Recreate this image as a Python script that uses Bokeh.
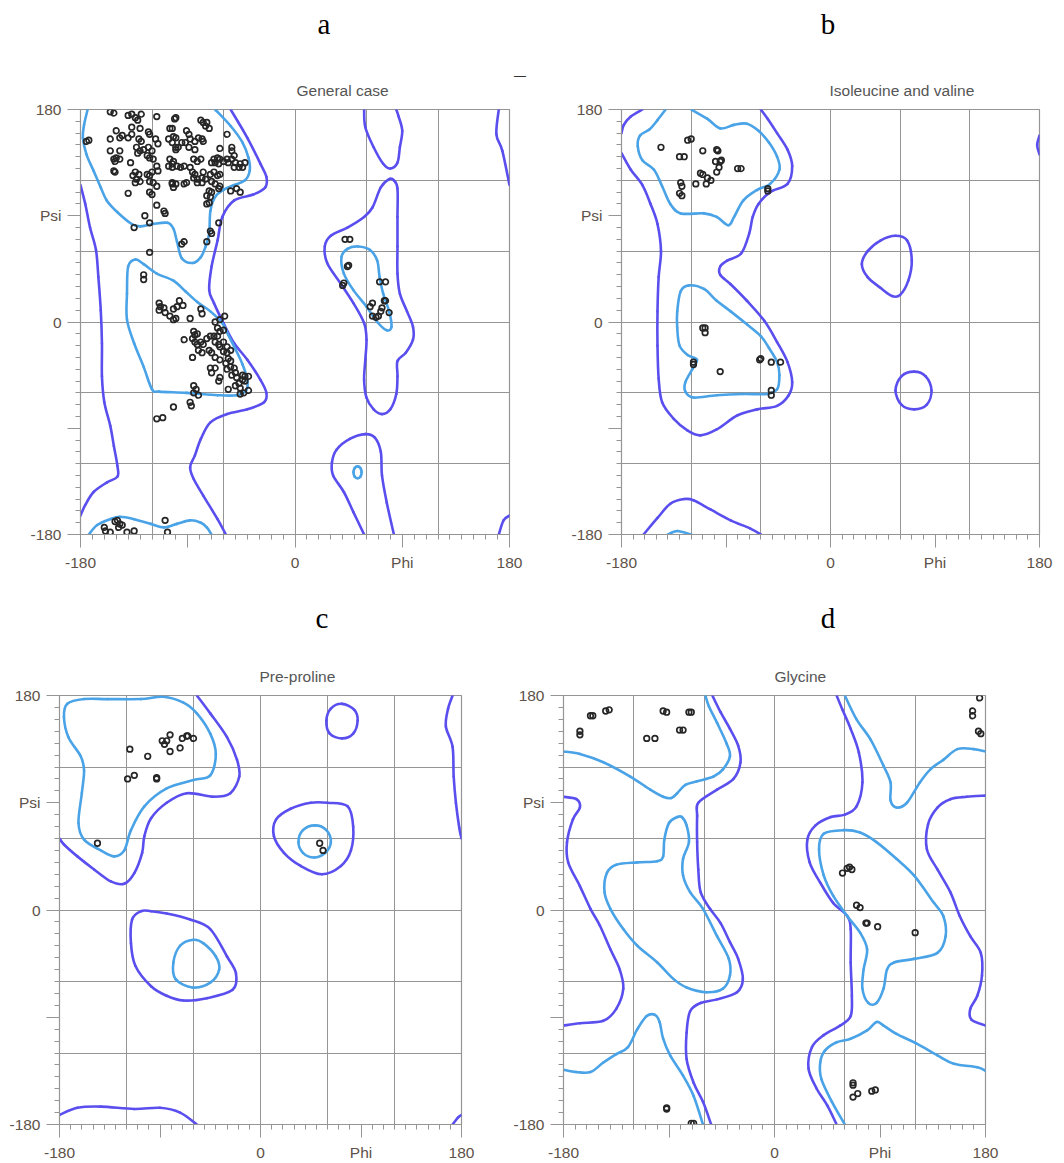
from bokeh.plotting import figure
from bokeh.models import Range1d, FixedTicker, Title, Div
from bokeh.layouts import row, column
from bokeh.embed import file_html
from bokeh.resources import INLINE

DARK = "#5a4fee"
LIGHT = "#49a3e6"
GRID = "#959595"
TXT = "#5e5249"
TITLE_TXT = "#555555"
PT = "#262626"

MAJOR = [-180, -90, 0, 90, 180]
MINOR = [v for v in range(-180, 181, 10) if v not in MAJOR]
GRID_TICKS = [-120, -60, 0, 60, 120]

# ---------------- panel a : General case ----------------
A_LIGHT_BETA = [(-67,180),(-54,166),(-44,152),(-39,139),(-38,128),(-42,120),(-51,116),(-60,112),(-67,106),(-71,94),(-72,75),(-75,64),(-79,55),(-86,50),(-95,54),(-99,68),(-102,79),(-107,84),(-119,83),(-130,81),(-137,83),(-149,93),(-158,103),(-163,114),(-169,128),(-175,142),(-178,156),(-177,167),(-174,180)]
A_DARK_MAIN = [(-54,180),(-40,156),(-29,134),(-24,123),(-25,114),(-35,108),(-51,103),(-61,89),(-65,69),(-70,47),(-72,27),(-68,16),(-60,-1),(-51,-18),(-40,-32),(-29,-49),(-24,-60),(-26,-68),(-40,-74),(-57,-78),(-71,-85),(-79,-99),(-84,-113),(-88,-123),(-85,-133),(-77,-147),(-65,-167),(-58,-180)]
A_DARK_LEFT = [(-180,116),(-176,100),(-172,80),(-167,61),(-165,38),(-163,10),(-162,-18),(-162,-46),(-160,-68),(-155,-88),(-152,-105),(-149,-122),(-149,-131),(-158,-136),(-169,-144),(-176,-155),(-180,-164)]
A_DARK_RT = [(171,180),(169,159),(174,145),(180,116)]
A_DARK_RB = [(171,-180),(175,-168),(180,-164)]
A_DARK_UTOP = [(58,180),(59,165),(66,148),(74,134),(80,130),(86,135),(88,148),(90,162),(87,174),(85,180)]
A_DARK_UBOT = [(58,-180),(49,-161),(41,-144),(32,-130),(31,-119),(35,-108),(46,-99),(59,-95),(67,-98),(72,-110),(73,-130),(77,-153),(83,-180)]
A_DARK_L = [(79,121),(72,114),(65,97),(58,89),(44,80),(30,73),(25,64),(27,50),(38,33),(49,16),(58,-1),(60,-15),(59,-32),(58,-49),(60,-64),(66,-74),(73,-78),(80,-74),(85,-61),(86,-46),(86,-33),(93,-26),(99,-15),(99,-4),(94,9),(88,24),(86,41),(86,64),(86,89),(86,113),(83,120)]
A_LIGHT_L = [(53,64),(44,62),(39,55),(41,41),(49,27),(60,13),(69,0),(77,-7),(81,-4),(79,9),(74,24),(71,38),(69,52),(63,61)]
A_LIGHT_ALPHA = [(-134,53),(-140,47),(-141,24),(-141,2),(-135,-18),(-127,-38),(-120,-57),(-114,-59),(-91,-60),(-65,-62),(-49,-62),(-41,-58),(-40,-49),(-44,-36),(-50,-23),(-56,-11),(-61,-1),(-71,9),(-82,17),(-92,26),(-102,35),(-116,41),(-127,49)]
A_LIGHT_BOT = [(-173,-180),(-166,-172),(-155,-167),(-147,-165),(-135,-167),(-121,-171),(-110,-174),(-99,-171),(-88,-168),(-79,-170),(-74,-174),(-70,-180)]
A_LIGHT_OVAL = [(52.5,-122.3),(55,-123.8),(55.9,-127.3),(55,-130.8),(52.5,-132.3),(50,-130.8),(49.1,-127.3),(50,-123.8)]

A_POINTS = [
    (-175,153),(-173,154),(-155,178),(-152,177),(-140,175),(-134,173),(-132,171),(-129,176),(-116,174),(-101,172),
    (-137,165),(-130,164),(-150,162),(-145,158),(-147,156),(-155,155),(-140,156),(-137,159),(-123,161),(-122,159),
    (-131,155),(-129,153),(-117,155),(-115,151),(-106,155),(-103,152),(-105,164),(-100,146),(-155,145),(-147,145),
    (-152,138),(-150,139),(-147,138),(-151,136),(-138,135),(-133,148),(-130,145),(-127,146),(-132,143),(-123,148),
    (-120,145),(-124,141),(-122,139),(-119,138),(-116,132),(-115,128),(-106,132),(-103,131),(-151,127),(-152,128),
    (-134,127),(-131,125),(-136,124),(-124,125),(-122,124),(-120,127),(-133,121),(-130,119),(-134,118),(-122,119),
    (-119,118),(-116,115),(-140,109),(-122,110),(-120,108),(-103,117),(-102,114),(-116,99),(-110,94),(-109,92),
    (-126,90),(-122,84),(-135,80),(-137,176),
    (-100,173),(-103,164),(-102,157),(-100,156),(-79,171),(-77,169),(-74,169),(-75,166),(-72,164),(-91,162),
    (-89,159),(-81,156),(-78,155),(-77,153),(-57,159),(-95,152),(-92,152),(-88,155),(-84,153),(-100,148),
    (-98,148),(-89,148),(-84,146),(-63,147),(-53,148),(-53,145),(-51,141),(-53,138),(-68,138),(-65,139),
    (-63,138),(-70,135),(-67,135),(-64,134),(-60,136),(-57,138),(-56,135),(-50,135),(-46,134),(-42,135),
    (-44,131),(-47,131),(-51,131),(-105,138),(-102,136),(-103,134),(-99,132),(-96,131),(-93,132),(-85,138),
    (-82,136),(-79,138),(-88,131),(-86,127),(-84,125),(-85,122),(-82,121),(-77,127),(-78,122),(-75,121),
    (-71,125),(-68,127),(-65,124),(-63,125),(-103,118),(-100,117),(-93,117),(-91,118),(-82,118),(-78,118),
    (-70,119),(-67,117),(-63,115),(-64,113),(-72,111),(-70,110),(-74,107),(-71,106),(-72,101),(-74,100),
    (-54,111),(-49,113),(-46,110),(-64,84),(-71,77),(-70,75),(-93,68),(-95,66),(-74,68),(-122,59),
    (-127,40),(-127,36),(-114,16),(-113,13),(-110,12),(-114,10),(-109,8),(-102,11),(-99,13),(-97,18),
    (-94,14),(-105,5),(-102,2),(-100,3),(-88,3),(-79,11),(-78,7),(-67,0),(-63,2),(-59,5),
    (-65,-5),(-93,-15),(-85,-8),(-84,-11),(-82,-10),(-86,-14),(-84,-17),(-82,-19),(-79,-17),(-77,-19),
    (-81,-24),(-86,-30),(-78,-26),(-74,-14),(-71,-12),(-68,-12),(-67,-17),(-64,-19),(-63,-21),(-60,-17),
    (-57,-21),(-54,-24),(-72,-24),(-70,-26),(-67,-30),(-63,-32),(-60,-25),(-57,-26),(-71,-39),(-67,-39),
    (-70,-43),(-63,-47),(-64,-50),(-56,-57),(-57,-40),(-54,-38),(-51,-39),(-50,-43),(-53,-45),(-49,-47),
    (-47,-52),(-50,-54),(-46,-56),(-44,-45),(-42,-46),(-39,-46),(-42,-50),(-44,-49),(-39,-58),(-43,-60),
    (-46,-61),(-85,-54),(-83,-57),(-85,-60),(-81,-62),(-102,-72),(-88,-68),(-87,-71),(-63,-8),(-60,-7),
    (-65,-12),(-56,-31),(-54,-33),(-58,-35),(-116,-82),(-111,-81),
    (-160,-174),(-159,-177),(-155,-178),(-151,-169),(-149,-168),(-147,-171),(-145,-172),(-148,-174),(-141,-178),(-135,-177),
    (-109,-168),(-107,-178),
    (42,70),(46,70),(44,47),(45,48),(40,31),(41,33),(71,34),(76,34),(63,13),(65,16),
    (73,12),(75,18),(76,18),(79,8),(65,5),(68,4),(70,5),(72,9),
]

# ---------------- panel b : Isoleucine and valine ----------------
B_DARK_CORNER = [(-162,180),(-172,174),(-178,167),(-180,160)]
B_DARK_MAIN = [(-180,143),(-172,129),(-162,116),(-155,100),(-149,83),(-146,60),(-148,38),(-149,9),(-149,-20),(-148,-48),(-145,-68),(-135,-82),(-123,-92),(-112,-96),(-98,-91),(-80,-79),(-63,-74),(-46,-71),(-36,-62),(-33,-51),(-37,-34),(-46,-17),(-57,1),(-72,18),(-86,32),(-95,40),(-95,47),(-89,52),(-77,58),(-70,75),(-67,89),(-62,100),(-52,110),(-37,117),(-33,132),(-37,146),(-46,160),(-54,172),(-60,180)]
B_LIGHT_TOP = [(-142,180),(-149,171),(-156,163),(-164,158),(-166,149),(-162,137),(-152,129),(-145,115),(-138,100),(-129,92),(-109,92),(-98,89),(-88,82),(-83,89),(-75,103),(-63,112),(-52,117),(-44,129),(-46,140),(-53,152),(-62,162),(-72,168),(-83,167),(-95,164),(-106,172),(-120,180)]
B_LIGHT_BOT = [(-140,-180),(-132,-177),(-120,-180)]
B_LIGHT_ALPHA = [(-122,31),(-129,26),(-132,9),(-132,-5),(-130,-20),(-123,-28),(-115,-32),(-119,-40),(-125,-51),(-125,-59),(-118,-64),(-98,-62),(-75,-61),(-55,-61),(-46,-57),(-44,-45),(-46,-34),(-53,-22),(-60,-12),(-72,-2),(-86,9),(-98,18),(-109,28)]
B_DARK_BOT = [(-161,-180),(-149,-166),(-138,-154),(-126,-150),(-118,-151),(-103,-159),(-86,-168),(-69,-175),(-60,-180)]
B_DARK_C1 = [(56,73),(66,69),(70,52),(67,35),(60,23),(53,22),(43,29),(32,38),(27,49),(32,60),(43,69)]
B_DARK_C2 = [(72,-42),(82,-46),(87,-58),(83,-70),(72,-74),(61,-70),(56,-58),(61,-46)]
B_DARK_EDGE = [(180,158),(178,150),(180,142)]

B_POINTS = [
    (-146,148),(-123,154),(-120,155),(-130,140),(-126,140),(-110,145),(-98,146),(-97,145),
    (-99,136),(-95,136),(-94,137),(-96,131),(-98,127),(-112,126),(-110,125),(-106,122),(-103,120),
    (-107,117),(-80,130),(-77,130),(-129,118),(-128,115),(-130,109),(-128,107),(-116,117),(-54,113),(-54,111),
    (-110,-5),(-108,-5),(-108,-9),(-118,-34),(-118,-36),(-95,-42),(-61,-32),(-60,-31),(-51,-34),(-43,-34),
    (-51,-58),(-51,-62),
]

# ---------------- panel c : Pre-proline ----------------
C_LIGHT_BETA = [(-158,177),(-173,173),(-176,162),(-172,145),(-161,129),(-158,117),(-160,98),(-163,73),(-158,59),(-143,50),(-131,45),(-122,50),(-116,67),(-104,87),(-84,102),(-60,109),(-45,113),(-40,131),(-45,148),(-57,165),(-69,174),(-87,179),(-107,177),(-137,177)]
C_DARK_BETA = [(-57,180),(-45,165),(-30,145),(-21,126),(-19,112),(-27,98),(-42,95),(-66,98),(-84,90),(-98,77),(-104,62),(-106,48),(-113,31),(-122,22),(-134,24),(-149,34),(-164,45),(-176,55),(-180,60)]
C_DARK_EDGE = [(172,180),(168,169),(166,154),(172,137),(173,112),(175,90),(178,69),(180,60)]
C_DARK_CIRC = [(73,173),(84,168),(87,159),(83,148),(73,144),(62,148),(59,159),(63,169)]
C_DARK_LOOP = [(60,90),(78,87),(83,70),(81,50),(72,37),(55,30),(36,37),(21,48),(12,62),(14,76),(27,85),(45,90)]
C_LIGHT_CIRC = [(49,71),(59,67),(63,57),(58,48),(48,44),(38,48),(34,57),(38,67)]
C_DARK_ALPHA = [(-107,-1),(-115,-8),(-116,-28),(-112,-47),(-98,-64),(-84,-72),(-69,-76),(-48,-74),(-25,-67),(-22,-53),(-30,-39),(-45,-16),(-63,-8),(-84,-3),(-98,-1)]
C_LIGHT_ALPHA = [(-60,-25),(-72,-30),(-78,-44),(-76,-58),(-61,-65),(-45,-61),(-37,-50),(-40,-39),(-51,-28)]
C_DARK_BOT = [(-180,-172),(-164,-166),(-143,-165),(-113,-167),(-90,-166),(-72,-170),(-57,-180)]
C_DARK_BR = [(172,-180),(177,-174),(180,-172)]

C_POINTS = [
    (-117,135),(-119,110),(-113,113),(-101,129),(-93,111),(-93,110),(-88,142),(-86,139),(-84,142),
    (-81,147),(-81,133),(-72,136),(-70,144),(-66,146),(-65,146),(-60,144),(-146,56),(53,56),(56,50),
]

# ---------------- panel d : Glycine ----------------
D_LIGHT_TL = [(-180,133),(-166,131),(-146,124),(-123,112),(-106,101),(-95,95),(-88,94),(-83,98),(-76,105),(-66,108),(-52,112),(-44,118),(-38,129),(-41,140),(-49,157),(-56,171),(-59,180)]
D_DARK_MID = [(-53,180),(-46,166),(-38,152),(-31,138),(-29,124),(-35,110),(-49,101),(-65,90),(-66,79),(-66,57),(-65,34),(-63,15),(-55,1),(-46,-11),(-38,-27),(-31,-41),(-27,-58),(-32,-69),(-49,-75),(-63,-78),(-72,-85),(-75,-103),(-75,-125),(-69,-145),(-61,-161),(-54,-180)]
D_LIGHT_CL = [(-83,78),(-90,73),(-94,59),(-95,45),(-100,41),(-117,40),(-135,38),(-143,31),(-145,15),(-140,1),(-129,-16),(-117,-30),(-100,-44),(-86,-58),(-75,-65),(-58,-69),(-44,-66),(-38,-55),(-39,-41),(-49,-22),(-61,1),(-72,15),(-78,29),(-78,43),(-73,57),(-75,71),(-79,78)]
D_DARK_L = [(-180,95),(-169,93),(-166,86),(-172,76),(-177,57),(-176,40),(-166,20),(-157,1),(-149,-13),(-140,-33),(-132,-50),(-129,-66),(-135,-83),(-146,-93),(-166,-95),(-180,-97)]
D_LIGHT_BL = [(-180,-134),(-169,-136),(-157,-136),(-146,-128),(-135,-121),(-125,-115),(-117,-100),(-109,-89),(-102,-88),(-98,-94),(-95,-108),(-89,-122),(-78,-139),(-69,-156),(-61,-180)]
D_DARK_R1 = [(53,180),(58,168),(65,152),(72,132),(75,107),(70,87),(60,80),(48,78),(35,71),(28,59),(30,40),(39,23),(50,6),(62,-5),(65,-16),(65,-44),(66,-72),(65,-89),(56,-97),(42,-105),(32,-115),(29,-133),(36,-150),(45,-164),(53,-180)]
D_LIGHT_RT = [(60,180),(70,160),(82,143),(93,121),(99,107),(99,92),(104,86),(113,90),(124,107),(133,118),(144,126),(156,135),(170,135),(180,133)]
D_LIGHT_RC = [(59,67),(42,64),(38,51),(42,29),(50,12),(62,-5),(73,-19),(79,-33),(76,-50),(75,-66),(80,-78),(87,-78),(93,-66),(96,-50),(102,-44),(119,-41),(139,-36),(146,-22),(144,-5),(136,6),(119,29),(104,43),(87,57),(73,65)]
D_DARK_R2 = [(180,96),(164,95),(150,93),(139,86),(131,72),(130,51),(139,34),(150,15),(158,-5),(167,-22),(176,-36),(177,-55),(173,-72),(167,-83),(168,-92),(180,-97)]
D_LIGHT_BR = [(60,-180),(49,-161),(40,-142),(39,-128),(43,-118),(53,-111),(65,-108),(79,-101),(87,-94),(93,-97),(104,-104),(121,-112),(139,-122),(153,-129),(173,-132),(180,-135)]

D_POINTS = [
    (-166,150),(-166,147),(-157,163),(-155,163),(-144,167),(-141,168),(-109,144),(-102,144),
    (-95,167),(-92,166),(-81,151),(-78,151),(-73,166),(-71,166),(175,178),(169,167),(169,163),
    (174,150),(176,148),(58,31),(62,35),(64,36),(66,34),(70,4),(73,2),(78,-11),(79,-11),(88,-14),
    (120,-19),(67,-145),(67,-147),(67,-157),(71,-154),(83,-152),(86,-151),(-92,-166),(-92,-167),
    (-71,-179),(-69,-179),
]

PANEL_LETTERS = ["a", "b", "c", "d"]
PANEL_TITLES = ["General case", "Isoleucine and valine", "Pre-proline", "Glycine"]

PANELS = [
    dict(title=PANEL_TITLES[0], w=558, h=506, bl=80, br=49, bb=40, toff=216,
         dark=[(A_DARK_MAIN, False), (A_DARK_LEFT, False), (A_DARK_RT, False), (A_DARK_RB, False),
               (A_DARK_UTOP, False), (A_DARK_UBOT, False), (A_DARK_L, True)],
         light=[(A_LIGHT_BETA, False), (A_LIGHT_L, True), (A_LIGHT_ALPHA, True), (A_LIGHT_BOT, False),
                (A_LIGHT_OVAL, True)],
         points=A_POINTS),
    dict(title=PANEL_TITLES[1], w=506, h=506, bl=63, br=25, bb=40, toff=208,
         dark=[(B_DARK_CORNER, False), (B_DARK_MAIN, False), (B_DARK_BOT, False), (B_DARK_C1, True),
               (B_DARK_C2, True), (B_DARK_EDGE, False)],
         light=[(B_LIGHT_TOP, False), (B_LIGHT_BOT, False), (B_LIGHT_ALPHA, True)],
         points=B_POINTS),
    dict(title=PANEL_TITLES[2], w=500, h=509, bl=59, br=39, bb=38, toff=200,
         dark=[(C_DARK_BETA, False), (C_DARK_EDGE, False), (C_DARK_CIRC, True), (C_DARK_LOOP, True),
               (C_DARK_ALPHA, True), (C_DARK_BOT, False), (C_DARK_BR, False)],
         light=[(C_LIGHT_BETA, True), (C_LIGHT_CIRC, True), (C_LIGHT_ALPHA, True)],
         points=C_POINTS),
    dict(title=PANEL_TITLES[3], w=564, h=509, bl=63, br=79, bb=38, toff=211,
         dark=[(D_DARK_MID, False), (D_DARK_L, False), (D_DARK_R1, False), (D_DARK_R2, False)],
         light=[(D_LIGHT_TL, False), (D_LIGHT_CL, True), (D_LIGHT_BL, False), (D_LIGHT_RT, False),
                (D_LIGHT_RC, True), (D_LIGHT_BR, False)],
         points=D_POINTS),
]


def smooth_segments(pts, closed):
    """Catmull-Rom curve through the traced points, as cubic Bezier segments."""
    n = len(pts)
    segs = []
    rng = range(n) if closed else range(n - 1)
    for i in rng:
        if closed:
            p0, p1, p2, p3 = pts[(i - 1) % n], pts[i], pts[(i + 1) % n], pts[(i + 2) % n]
        else:
            p0 = pts[i - 1] if i > 0 else pts[i]
            p1, p2 = pts[i], pts[i + 1]
            p3 = pts[i + 2] if i + 2 < n else pts[i + 1]
        c0 = (p1[0] + (p2[0] - p0[0]) / 6.0, p1[1] + (p2[1] - p0[1]) / 6.0)
        c1 = (p2[0] - (p3[0] - p1[0]) / 6.0, p2[1] - (p3[1] - p1[1]) / 6.0)
        segs.append((p1, p2, c0, c1))
    return segs


def make_panel(cfg):
    ttl = Title(text=cfg["title"], align="left", offset=cfg["toff"], standoff=22,
                vertical_align="bottom", text_font="Liberation Sans", text_font_size="15.5px",
                text_font_style="normal", text_color=TITLE_TXT)
    p = figure(width=cfg["w"], height=cfg["h"], title=ttl,
               x_range=Range1d(-180, 180), y_range=Range1d(-180, 180),
               output_backend="svg", toolbar_location=None,
               min_border_left=cfg["bl"], min_border_right=cfg["br"],
               min_border_top=10, min_border_bottom=cfg["bb"])
    p.background_fill_color = "white"
    p.border_fill_color = "white"
    p.border_fill_alpha = 0
    p.outline_line_color = GRID
    p.outline_line_width = 1.2

    for ax, lab in ((p.xaxis[0], "Phi"), (p.yaxis[0], "Psi")):
        ax.ticker = FixedTicker(ticks=MAJOR, minor_ticks=MINOR)
        ax.major_label_overrides = {-180: "-180", -90: "", 0: "0", 90: lab, 180: "180"}
        ax.major_tick_out = 13
        ax.major_tick_in = 0
        ax.minor_tick_out = 5
        ax.minor_tick_in = 0
        ax.axis_line_color = GRID
        ax.major_tick_line_color = GRID
        ax.minor_tick_line_color = GRID
        ax.major_label_text_font = "Liberation Sans"
        ax.major_label_text_font_size = "15.5px"
        ax.major_label_text_color = TXT
        ax.major_label_standoff = 6

    p.xgrid.ticker = FixedTicker(ticks=GRID_TICKS)
    p.ygrid.ticker = FixedTicker(ticks=GRID_TICKS)
    p.grid.grid_line_color = GRID
    p.grid.grid_line_width = 1

    for group, col in ((cfg["dark"], DARK), (cfg["light"], LIGHT)):
        for pts, closed in group:
            segs = smooth_segments(pts, closed)
            p.bezier(x0=[s[0][0] for s in segs], y0=[s[0][1] for s in segs],
                     x1=[s[1][0] for s in segs], y1=[s[1][1] for s in segs],
                     cx0=[s[2][0] for s in segs], cy0=[s[2][1] for s in segs],
                     cx1=[s[3][0] for s in segs], cy1=[s[3][1] for s in segs],
                     line_color=col, line_width=2.6, line_cap="round")

    px = [q[0] for q in cfg["points"]]
    py = [q[1] for q in cfg["points"]]
    p.scatter(px, py, marker="circle", size=5.6, line_color=PT, line_width=1.7, fill_color=None)
    return p


def letter_div(height, items):
    spans = "".join(
        f'<span style="position:absolute;left:{x}px;top:{y}px;transform:translateX(-50%);'
        f'font-family:\'{fam}\',serif;font-size:{fs}px;line-height:1;color:{c};white-space:nowrap;">{t}</span>'
        for t, x, y, fam, fs, c in items)
    html = (f'<div style="position:relative;width:1064px;height:{height}px;overflow:visible;">'
            f'{spans}</div>')
    return Div(text=html, width=1064, height=height, margin=0, styles={"overflow": "visible"})


figs = [make_panel(cfg) for cfg in PANELS]
top_letters = letter_div(68, [
    (PANEL_LETTERS[0], 324, 10, "Liberation Serif", 29, "#000"),
    (PANEL_LETTERS[1], 828, 10, "Liberation Serif", 29, "#000"),
    ("\u2014", 520, 70, "Liberation Sans", 12, "#333"),
])
mid_letters = letter_div(80, [
    (PANEL_LETTERS[2], 322, 30, "Liberation Serif", 29, "#000"),
    (PANEL_LETTERS[3], 828, 30, "Liberation Serif", 29, "#000"),
])
layout = column(top_letters, row(figs[0], figs[1]), mid_letters, row(figs[2], figs[3]))

open("out.html", "w").write(file_html(layout, INLINE))
